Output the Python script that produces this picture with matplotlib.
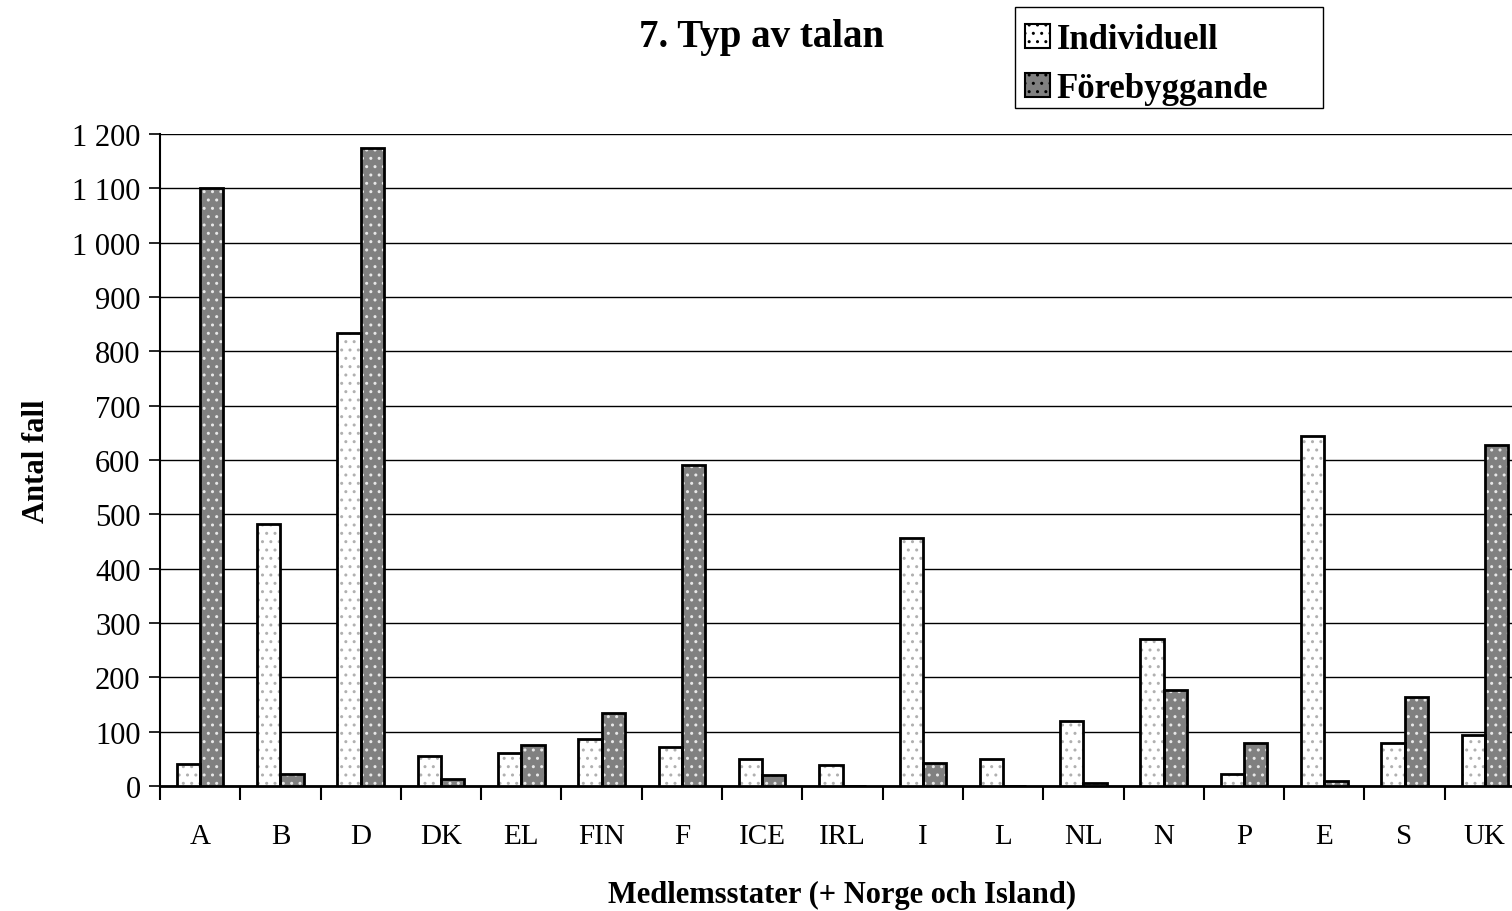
import numpy as np
import matplotlib.pyplot as plt
from matplotlib.patches import Patch, Rectangle

plt.rcParams['font.family'] = ['Liberation Serif', 'DejaVu Serif']
plt.rcParams['hatch.linewidth'] = 1.0

# Data
countries = ['A', 'B', 'D', 'DK', 'EL', 'FIN', 'F', 'ICE', 'IRL', 'I', 'L',
             'NL', 'N', 'P', 'E', 'S', 'UK']
individuell = [41, 482, 833, 56, 61, 86, 71, 50, 39, 456, 50, 120, 270, 23, 645, 79, 94]
forebyggande = [1100, 23, 1175, 13, 75, 134, 590, 20, 0, 42, 0, 6, 177, 79, 10, 163, 627]
yticks = np.arange(0, 1300, 100)

fig = plt.figure(figsize=(15.12, 9.12), dpi=100)
ax = fig.add_axes([160 / 1512, 1 - 787 / 912, 1365 / 1512, 652 / 912])

x = np.arange(len(countries))
w = 0.29

# Fill + dotted hatch first, then black outlines on top
ax.bar(x - w / 2, individuell, w, color='white', hatch='..', edgecolor='#b0b0b0',
       linewidth=0, zorder=3)
ax.bar(x + w / 2, forebyggande, w, color='#808080', hatch='..', edgecolor='#e8e8e8',
       linewidth=0, zorder=3)
ax.bar(x - w / 2, individuell, w, fill=False, edgecolor='black', linewidth=2, zorder=4)
ax.bar(x + w / 2, forebyggande, w, fill=False, edgecolor='black', linewidth=2, zorder=4)

ax.set_xlim(-0.5, len(countries) - 0.5)
ax.set_ylim(0, 1200)
ax.set_yticks(yticks)
ax.set_yticklabels([f'{v:,}'.replace(',', ' ') for v in yticks], fontsize=22)
ax.yaxis.grid(True, color='black', linewidth=1)
ax.set_axisbelow(True)

ax.set_xticks(x)
ax.set_xticklabels(countries, fontsize=21)
ax.set_xticks(np.arange(-0.5, len(countries)), minor=True)
ax.tick_params(axis='x', which='major', length=0, pad=27)
ax.tick_params(axis='x', which='minor', length=10, width=1.5, direction='out')
ax.tick_params(axis='y', length=8, width=1.2, direction='out', pad=6)

for s in ['top', 'right']:
    ax.spines[s].set_visible(False)
ax.spines['left'].set_linewidth(1.5)
ax.spines['bottom'].set_linewidth(2)

ax.set_ylabel('Antal fall', fontsize=22, fontweight='bold', labelpad=15)
ax.set_xlabel('Medlemsstater (+ Norge och Island)', fontsize=22, fontweight='bold',
              labelpad=22)

fig.text(762 / 1512, 1 - 37 / 912, '7. Typ av talan', fontsize=28, fontweight='bold',
         ha='center', va='center')

# Legend entries without frame, box drawn separately
handles = [Patch(facecolor='white', edgecolor='black', hatch='..', linewidth=1.5),
           Patch(facecolor='#808080', edgecolor='black', hatch='..', linewidth=1.5)]
fig.legend(handles, ['Individuell', 'Förebyggande'], loc='upper left',
           bbox_to_anchor=(1015 / 1512, 1 - 14 / 912), frameon=False,
           prop={'size': 25, 'weight': 'bold'},
           handlelength=0.7, handleheight=0.7, handletextpad=0.2,
           borderpad=0.3, labelspacing=0.45, borderaxespad=0)
fig.add_artist(Rectangle((1015 / 1512, 1 - 109 / 912), 308 / 1512, 101 / 912,
                         transform=fig.transFigure, fill=False, edgecolor='black',
                         linewidth=1))

fig.savefig('out.png', dpi=100)
